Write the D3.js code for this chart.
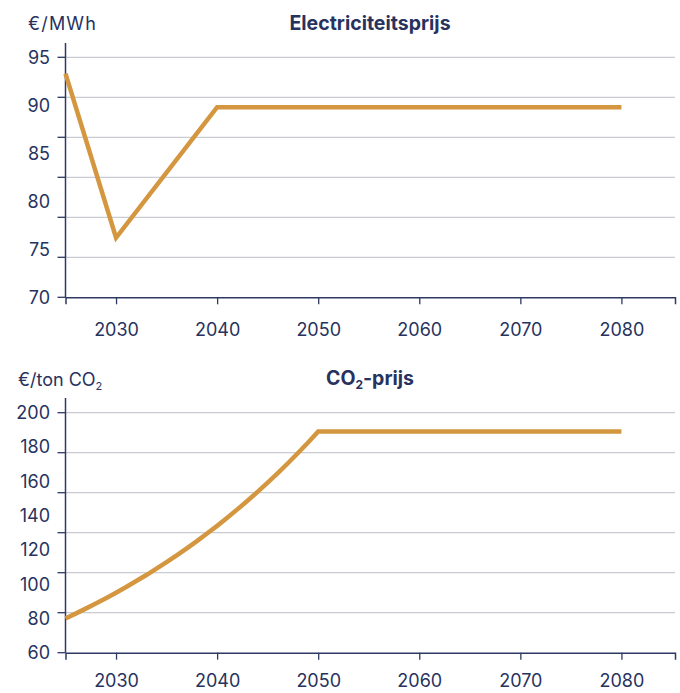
<!DOCTYPE html>
<html>
<head>
<meta charset="utf-8">
<script src="https://cdn.jsdelivr.net/npm/d3@7"></script>
<style>
  html, body { margin: 0; padding: 0; background: #ffffff; }
  svg { display: block; font-family: Inter, "Noto Sans", sans-serif; }
</style>
</head>
<body>
<svg id="chart" width="680" height="693"></svg>
<script>
// ---------- data ----------
const xTickLabels = [2030, 2040, 2050, 2060, 2070, 2080];

const elecYears  = [2025, 2030, 2040, 2080];
const elecValues = [93.3, 76.2, 89.8, 89.8];
const elecTickLabels = [70, 75, 80, 85, 90, 95];

const co2Years  = [2025, 2026, 2027, 2028, 2029, 2030, 2031, 2032, 2033, 2034,
                   2035, 2036, 2037, 2038, 2039, 2040, 2041, 2042, 2043, 2044,
                   2045, 2046, 2047, 2048, 2049, 2050, 2080];
const co2Values = [80.0, 82.8, 85.7, 88.7, 91.8, 95.0, 98.3, 101.8, 105.3, 109.0,
                   112.8, 116.8, 120.9, 125.1, 129.5, 134.0, 138.7, 143.6, 148.6, 153.8,
                   159.2, 164.7, 170.5, 176.5, 182.6, 189.0, 189.0];
const co2TickLabels = [60, 80, 100, 120, 140, 160, 180, 200];

// ---------- style ----------
const navy = "#27325e";
const axisColor = "#2e3a63";
const gridColor = "#c9ccd3";
const lineColor = "#d4963f";

const svg = d3.select("#chart");
const x = d3.scaleLinear().domain([2025, 2085.3]).range([65.5, 675]);

function panel(opts) {
  const { years, values, labels, top, bottom, axisTop, gridCount, title, unit, pad } = opts;
  const y = d3.scaleLinear().domain([labels[0], labels[labels.length - 1]]).range([bottom, top]);
  const g = svg.append("g");
  const gridVals = d3.range(gridCount).map(i => labels[0] + i * (labels[labels.length - 1] - labels[0]) / (gridCount - 1));

  // gridlines
  g.append("g").selectAll("line").data(gridVals.slice(1)).join("line")
    .attr("x1", x.range()[0]).attr("x2", x.range()[1])
    .attr("y1", d => y(d)).attr("y2", d => y(d))
    .attr("stroke", gridColor).attr("stroke-width", 1.3);

  // y tick marks on grid positions
  g.append("g").selectAll("line").data(gridVals).join("line")
    .attr("x1", x.range()[0] - 8).attr("x2", x.range()[0])
    .attr("y1", d => y(d)).attr("y2", d => y(d))
    .attr("stroke", axisColor).attr("stroke-width", 1.3);

  // y labels (evenly spread over the same range, as in the original)
  const labY = d3.scaleLinear().domain([0, labels.length - 1]).range([bottom, top]);
  g.append("g").selectAll("text").data(labels).join("text")
    .attr("x", 50).attr("y", (d, i) => labY(i))
    .attr("dy", "0.36em")
    .attr("text-anchor", "end")
    .attr("font-size", 18).attr("fill", navy)
    .text(d => d);

  // y axis line
  g.append("line")
    .attr("x1", x.range()[0]).attr("x2", x.range()[0])
    .attr("y1", axisTop).attr("y2", bottom)
    .attr("stroke", axisColor).attr("stroke-width", 1.5);

  // x axis
  const xa = g.append("g").attr("transform", `translate(0,${bottom})`)
    .call(d3.axisBottom(x).tickValues(xTickLabels).tickFormat(d3.format("d")).tickSize(7).tickPadding(pad));
  xa.select(".domain").attr("stroke", axisColor).attr("stroke-width", 1.5);
  xa.selectAll(".tick line").attr("stroke", axisColor).attr("stroke-width", 1.3);
  xa.selectAll(".tick text").attr("font-size", 18).attr("fill", navy).attr("font-family", "Inter, sans-serif");

  // data line
  const pts = years.map((yr, i) => [yr, values[i]]);
  g.append("path").datum(pts)
    .attr("fill", "none").attr("stroke", lineColor).attr("stroke-width", 4.5)
    .attr("stroke-linejoin", "miter").attr("stroke-linecap", "butt")
    .attr("d", d3.line().x(d => x(d[0])).y(d => y(d[1])));

  // unit label
  const ut = g.append("text").attr("x", unit.x).attr("y", unit.y)
    .attr("font-size", 18).attr("letter-spacing", unit.ls || 0).attr("fill", navy);
  unit.parts.forEach(p => {
    const t = ut.append("tspan").text(p.t);
    if (p.sub) t.attr("font-size", 11).attr("dy", 4);
    else if (p.after) t.attr("dy", -4);
  });

  // title
  const tt = g.append("text").attr("x", 370).attr("y", title.y)
    .attr("text-anchor", "middle").attr("font-size", 19.5).attr("font-weight", 700).attr("fill", navy);
  title.parts.forEach(p => {
    const t = tt.append("tspan").text(p.t);
    if (p.sub) t.attr("font-size", 12).attr("dy", 4);
    else if (p.after) t.attr("dy", -4);
  });
}

panel({
  years: elecYears, values: elecValues, labels: elecTickLabels,
  top: 57.3, bottom: 297.3, axisTop: 43, gridCount: 7, pad: 19,
  title: { y: 30, parts: [{ t: "Electriciteitsprijs" }] },
  unit: { x: 28, y: 30, ls: 1.2, parts: [{ t: "€/MWh" }] }
});

panel({
  years: co2Years, values: co2Values, labels: co2TickLabels,
  top: 412.7, bottom: 652.7, axisTop: 398, gridCount: 7, pad: 15,
  title: { y: 385, parts: [{ t: "CO" }, { t: "2", sub: true }, { t: "-prijs", after: true }] },
  unit: { x: 18, y: 386, parts: [{ t: "€/ton CO" }, { t: "2", sub: true }] }
});
</script>
</body>
</html>
